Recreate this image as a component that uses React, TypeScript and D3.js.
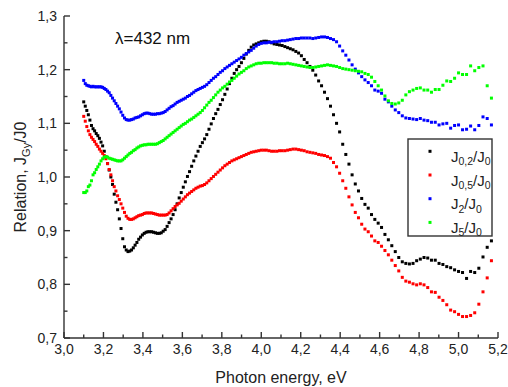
import React from 'react';
import * as d3 from 'd3';

// spectra are sampled every 1 nm, from 400 nm down to 240 nm
const WAVELENGTH_NM = d3.range(400, 239, -1);

const J02 = [
  1.140, 1.132, 1.124, 1.116, 1.106, 1.096, 1.090, 1.086, 1.081, 1.077,
  1.072, 1.065, 1.058, 1.048, 1.038, 1.025, 1.013, 1.000, 0.986, 0.968,
  0.953, 0.939, 0.922, 0.904, 0.885, 0.870, 0.864, 0.861, 0.862, 0.864,
  0.868, 0.873, 0.878, 0.884, 0.888, 0.892, 0.895, 0.897, 0.898, 0.898,
  0.898, 0.897, 0.896, 0.895, 0.895, 0.896, 0.899, 0.902, 0.908, 0.915,
  0.922, 0.930, 0.939, 0.950, 0.961, 0.971, 0.981, 0.991, 1.001, 1.010,
  1.020, 1.030, 1.039, 1.048, 1.057, 1.064, 1.071, 1.079, 1.089, 1.099,
  1.109, 1.118, 1.126, 1.135, 1.144, 1.154, 1.164, 1.174, 1.184, 1.193,
  1.200, 1.206, 1.213, 1.221, 1.229, 1.236, 1.242, 1.246, 1.248, 1.250,
  1.252, 1.253, 1.253, 1.252, 1.250, 1.248, 1.247, 1.246, 1.245, 1.243,
  1.241, 1.239, 1.237, 1.234, 1.231, 1.226, 1.219, 1.213, 1.206, 1.199,
  1.190, 1.179, 1.170, 1.158, 1.146, 1.132, 1.116, 1.100, 1.084, 1.061,
  1.042, 1.024, 1.004, 0.987, 0.974, 0.960, 0.949, 0.942, 0.930, 0.921,
  0.914, 0.906, 0.893, 0.883, 0.872, 0.861, 0.850, 0.842, 0.839, 0.838,
  0.839, 0.844, 0.847, 0.850, 0.849, 0.845, 0.845, 0.839, 0.837, 0.833,
  0.831, 0.827, 0.824, 0.822, 0.811, 0.824, 0.822, 0.830, 0.851, 0.869,
  0.881,
];

const J05 = [
  1.113, 1.104, 1.094, 1.086, 1.079, 1.074, 1.070, 1.066, 1.061, 1.057,
  1.052, 1.048, 1.044, 1.040, 1.034, 1.025, 1.014, 1.004, 0.993, 0.982,
  0.974, 0.965, 0.958, 0.950, 0.942, 0.934, 0.927, 0.923, 0.921, 0.921,
  0.922, 0.924, 0.926, 0.928, 0.929, 0.930, 0.932, 0.933, 0.933, 0.933,
  0.933, 0.932, 0.931, 0.930, 0.929, 0.929, 0.929, 0.929, 0.930, 0.933,
  0.937, 0.941, 0.945, 0.948, 0.951, 0.955, 0.959, 0.963, 0.967, 0.970,
  0.973, 0.976, 0.979, 0.981, 0.983, 0.984, 0.986, 0.989, 0.993, 0.997,
  1.001, 1.005, 1.009, 1.013, 1.017, 1.021, 1.024, 1.027, 1.030, 1.032,
  1.034, 1.036, 1.038, 1.040, 1.042, 1.044, 1.046, 1.047, 1.048, 1.049,
  1.050, 1.050, 1.050, 1.049, 1.048, 1.048, 1.048, 1.049, 1.049, 1.049,
  1.050, 1.051, 1.052, 1.052, 1.051, 1.050, 1.049, 1.047, 1.046, 1.045,
  1.044, 1.042, 1.041, 1.040, 1.038, 1.035, 1.027, 1.019, 1.007, 0.993,
  0.979, 0.963, 0.948, 0.934, 0.924, 0.912, 0.903, 0.898, 0.890, 0.881,
  0.878, 0.871, 0.863, 0.855, 0.845, 0.835, 0.825, 0.813, 0.806, 0.804,
  0.801, 0.799, 0.801, 0.799, 0.794, 0.786, 0.785, 0.776, 0.770, 0.762,
  0.752, 0.749, 0.744, 0.740, 0.740, 0.742, 0.747, 0.763, 0.786, 0.812,
  0.844,
];

const J2 = [
  1.180, 1.174, 1.171, 1.170, 1.169, 1.168, 1.169, 1.168, 1.168, 1.168,
  1.168, 1.168, 1.167, 1.165, 1.163, 1.160, 1.157, 1.152, 1.147, 1.142,
  1.137, 1.132, 1.127, 1.121, 1.115, 1.110, 1.107, 1.106, 1.106, 1.107,
  1.108, 1.110, 1.111, 1.112, 1.114, 1.116, 1.118, 1.119, 1.119, 1.118,
  1.117, 1.117, 1.117, 1.118, 1.118, 1.119, 1.120, 1.122, 1.125, 1.128,
  1.131, 1.133, 1.136, 1.139, 1.141, 1.143, 1.145, 1.147, 1.150, 1.152,
  1.155, 1.158, 1.161, 1.163, 1.165, 1.167, 1.169, 1.172, 1.176, 1.180,
  1.184, 1.187, 1.191, 1.195, 1.198, 1.202, 1.205, 1.208, 1.211, 1.214,
  1.217, 1.220, 1.223, 1.227, 1.230, 1.233, 1.236, 1.240, 1.244, 1.247,
  1.249, 1.250, 1.250, 1.251, 1.251, 1.252, 1.252, 1.253, 1.254, 1.254,
  1.255, 1.256, 1.257, 1.258, 1.258, 1.259, 1.259, 1.259, 1.259, 1.258,
  1.259, 1.260, 1.261, 1.261, 1.260, 1.258, 1.256, 1.252, 1.244, 1.235,
  1.227, 1.218, 1.209, 1.201, 1.194, 1.187, 1.181, 1.176, 1.170, 1.162,
  1.160, 1.156, 1.145, 1.140, 1.132, 1.125, 1.120, 1.114, 1.110, 1.109,
  1.108, 1.107, 1.109, 1.106, 1.105, 1.102, 1.102, 1.097, 1.099, 1.100,
  1.091, 1.096, 1.097, 1.088, 1.089, 1.095, 1.088, 1.096, 1.112, 1.109,
  1.097,
];

const J5 = [
  0.971, 0.971, 0.974, 0.982, 0.985, 0.993, 1.004, 1.008, 1.014, 1.019,
  1.024, 1.030, 1.034, 1.037, 1.038, 1.037, 1.035, 1.034, 1.033, 1.032,
  1.031, 1.030, 1.030, 1.030, 1.032, 1.035, 1.038, 1.041, 1.044, 1.046,
  1.049, 1.051, 1.054, 1.056, 1.058, 1.059, 1.060, 1.060, 1.061, 1.061,
  1.061, 1.061, 1.061, 1.062, 1.064, 1.066, 1.068, 1.071, 1.074, 1.077,
  1.080, 1.083, 1.086, 1.089, 1.092, 1.095, 1.098, 1.100, 1.103, 1.106,
  1.108, 1.111, 1.114, 1.117, 1.120, 1.124, 1.129, 1.134, 1.139, 1.143,
  1.148, 1.153, 1.158, 1.162, 1.166, 1.169, 1.173, 1.177, 1.180, 1.184,
  1.188, 1.192, 1.195, 1.198, 1.202, 1.205, 1.207, 1.209, 1.211, 1.212,
  1.212, 1.213, 1.213, 1.213, 1.213, 1.212, 1.212, 1.211, 1.211, 1.211,
  1.212, 1.211, 1.210, 1.209, 1.208, 1.207, 1.206, 1.205, 1.204, 1.204,
  1.205, 1.206, 1.207, 1.208, 1.209, 1.208, 1.207, 1.206, 1.204, 1.202,
  1.201, 1.200, 1.199, 1.198, 1.197, 1.196, 1.193, 1.191, 1.186, 1.178,
  1.170, 1.162, 1.151, 1.142, 1.137, 1.136, 1.138, 1.143, 1.153, 1.159,
  1.162, 1.165, 1.166, 1.162, 1.162, 1.158, 1.163, 1.163, 1.171, 1.179,
  1.178, 1.184, 1.194, 1.191, 1.191, 1.207, 1.198, 1.204, 1.207, 1.170,
  1.147,
];

const X_TICKS = [3.0, 3.2, 3.4, 3.6, 3.8, 4.0, 4.2, 4.4, 4.6, 4.8, 5.0, 5.2];
const X_MINOR = [3.1, 3.3, 3.5, 3.7, 3.9, 4.1, 4.3, 4.5, 4.7, 4.9, 5.1];
const Y_TICKS = [0.7, 0.8, 0.9, 1.0, 1.1, 1.2, 1.3];
const Y_MINOR = [0.75, 0.85, 0.95, 1.05, 1.15, 1.25];

const SERIES = [
  { key: 'j02', values: J02, color: '#000000', sub: '0,2' },
  { key: 'j05', values: J05, color: '#ff0000', sub: '0,5' },
  { key: 'j2', values: J2, color: '#0000ff', sub: '2' },
  { key: 'j5', values: J5, color: '#00ff00', sub: '5' },
];

const W = 508;
const H = 387;
const FONT = '"Liberation Sans", Arial, sans-serif';
const AXIS = '#333333';

const fmt = (d: number) => d.toFixed(1).replace('.', ',');

export default function App() {
  const x = d3.scaleLinear().domain([3.0, 5.2]).range([64, 498]);
  const y = d3.scaleLinear().domain([0.7, 1.3]).range([338, 16]);
  const energy = WAVELENGTH_NM.map(l => 1240 / l);

  const [x0, x1] = x.range();
  const [y0, y1] = y.range();
  const ms = 3; // marker size

  const legend = { x: 408, y: 139, w: 84, h: 97, row: 23.7 };

  return (
    <svg width={W} height={H} style={{ position: 'absolute', left: 0, top: 0, background: '#fff' }}
      fontFamily={FONT}>
      <rect width={W} height={H} fill="#fff" />

      {/* series */}
      {SERIES.map(s => (
        <g key={s.key} fill={s.color}>
          {s.values.map((v, i) => (
            <rect key={i} x={x(energy[i]) - ms / 2} y={y(v) - ms / 2} width={ms} height={ms} />
          ))}
        </g>
      ))}

      {/* axes */}
      <g stroke={AXIS} strokeWidth={1.4} fill="none">
        <line x1={x0} x2={x1} y1={y0} y2={y0} />
        <line x1={x0} x2={x0} y1={y0} y2={y1} />
        {X_TICKS.map(t => <line key={'xt' + t} x1={x(t)} x2={x(t)} y1={y0} y2={y0 - 6} />)}
        {X_MINOR.map(t => <line key={'xm' + t} x1={x(t)} x2={x(t)} y1={y0} y2={y0 - 3.5} />)}
        {Y_TICKS.map(t => <line key={'yt' + t} x1={x0} x2={x0 + 6} y1={y(t)} y2={y(t)} />)}
        {Y_MINOR.map(t => <line key={'ym' + t} x1={x0} x2={x0 + 3.5} y1={y(t)} y2={y(t)} />)}
      </g>

      <g fill="#222" fontSize={14}>
        {X_TICKS.map(t => (
          <text key={'xl' + t} x={x(t)} y={354} textAnchor="middle">{fmt(t)}</text>
        ))}
        {Y_TICKS.map(t => (
          <text key={'yl' + t} x={57} y={y(t)} dy="0.36em" textAnchor="end">{fmt(t)}</text>
        ))}
      </g>

      <text x={(x0 + x1) / 2} y={383} textAnchor="middle" fontSize={16} fill="#222">
        Photon energy, eV
      </text>
      <text transform={`translate(26,${(y0 + y1) / 2}) rotate(-90)`} textAnchor="middle" fontSize={16} fill="#222">
        Relation, J<tspan fontSize={11} dy={4}>Gy</tspan><tspan dy={-4}>/J0</tspan>
      </text>

      <text x={115} y={44} fontSize={17} fill="#111">λ=432 nm</text>

      {/* legend */}
      <rect x={legend.x} y={legend.y} width={legend.w} height={legend.h} fill="#fff" stroke={AXIS} strokeWidth={1.4} />
      {SERIES.map((s, i) => {
        const cy = 151.3 + i * legend.row;
        return (
          <g key={'lg' + s.key}>
            <rect x={430 - ms / 2} y={cy - ms / 2} width={ms} height={ms} fill={s.color} />
            <text x={451} y={cy + 10.5} fontSize={15} fill="#222">
              J<tspan fontSize={10.5} dy={3.5}>{s.sub}</tspan>
              <tspan dy={-3.5}>/J</tspan>
              <tspan fontSize={10.5} dy={3.5}>0</tspan>
            </text>
          </g>
        );
      })}
    </svg>
  );
}
